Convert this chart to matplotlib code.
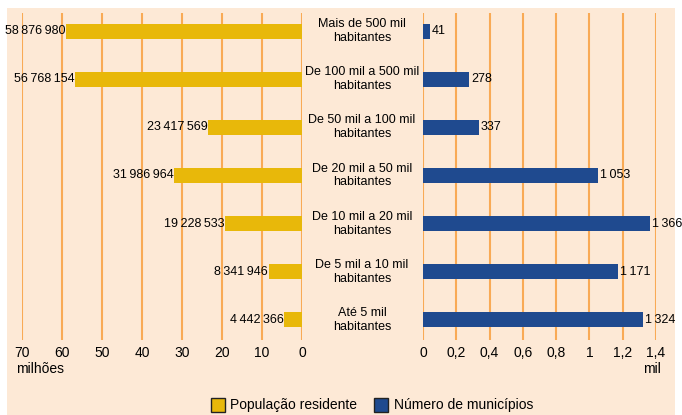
import matplotlib
matplotlib.use('Agg')
import matplotlib.pyplot as plt
import matplotlib.transforms as mtransforms
from matplotlib.patches import Patch, Rectangle

categories = ['Mais de 500 mil\nhabitantes', 'De 100 mil a 500 mil\nhabitantes',
              'De 50 mil a 100 mil\nhabitantes', 'De 20 mil a 50 mil\nhabitantes',
              'De 10 mil a 20 mil\nhabitantes', 'De 5 mil a 10 mil\nhabitantes',
              'Até 5 mil\nhabitantes']
populacao = [58876980, 56768154, 23417569, 31986964, 19228533, 8341946, 4442366]
municipios = [41, 278, 337, 1053, 1366, 1171, 1324]
left_ticks = [70, 60, 50, 40, 30, 20, 10, 0]
right_ticks = [0, 0.2, 0.4, 0.6, 0.8, 1, 1.2, 1.4]

bg = '#fde9d6'
yellow = '#e8b80a'
blue = '#1f4a8f'
grid_c = '#f9aa55'

plt.rcParams['font.family'] = ['Liberation Sans', 'DejaVu Sans']
plt.rcParams['font.size'] = 9

W, H = 682, 415
fig = plt.figure(figsize=(W / 100, H / 100), dpi=100)
fig.patch.set_facecolor('white')
fig.patches.append(Rectangle((7 / W, 0), 1 - 14 / W, 1 - 8 / H, transform=fig.transFigure,
                             facecolor=bg, edgecolor='none', zorder=-10))


def px(x0, y0, x1, y1):
    return [x0 / W, 1 - y1 / H, (x1 - x0) / W, (y1 - y0) / H]


axl = fig.add_axes(px(22, 13, 302, 340))
axr = fig.add_axes(px(423, 13, 656, 340))
rows = list(range(len(categories)))


def fmt(v):
    return '{:,}'.format(v).replace(',', '\u2009')


for ax in (axl, axr):
    ax.set_facecolor('none')
    for s in ax.spines.values():
        s.set_visible(False)
    ax.set_ylim(6.417, -0.375)
    ax.set_yticks([])
    ax.grid(axis='x', color=grid_c, linewidth=1.5)
    ax.set_axisbelow(True)
    ax.tick_params(axis='x', length=0, pad=4, labelsize=10)

pop_m = [p / 1e6 for p in populacao]
axl.barh(rows, pop_m, height=0.31, color=yellow)
axl.set_xlim(70, 0)
axl.set_xticks(left_ticks)
axl.set_xticklabels([str(t) for t in left_ticks])
for r, p, v in zip(rows, pop_m, populacao):
    axl.text(p + 0.2, r, fmt(v), ha='right', va='center', fontsize=9)

mun_k = [m / 1000 for m in municipios]
axr.barh(rows, mun_k, height=0.31, color=blue)
axr.set_xlim(0, 1.4)
axr.set_xticks(right_ticks)
axr.set_xticklabels([('%g' % t).replace('.', ',') for t in right_ticks])
for r, m, v in zip(rows, mun_k, municipios):
    axr.text(m + 0.01, r, fmt(v), ha='left', va='center', fontsize=9)

trans = mtransforms.blended_transform_factory(fig.transFigure, axr.transData)
for r, c in zip(rows, categories):
    fig.text(362 / W, r, c, transform=trans, ha='center', va='center',
             fontsize=9, linespacing=1.2)

fig.text(40 / W, 1 - 369 / H, 'milhões', ha='center', va='center', fontsize=10)
fig.text(652 / W, 1 - 369 / H, 'mil', ha='center', va='center', fontsize=10)

handles = [Patch(facecolor=yellow, edgecolor='#222222', label='População residente'),
           Patch(facecolor=blue, edgecolor='#222222', label='Número de municípios')]
fig.legend(handles=handles, loc='center', bbox_to_anchor=(372 / W, 1 - 405 / H), ncol=2,
           frameon=False, fontsize=10, handlelength=1.0, handleheight=1.2,
           handletextpad=0.4, columnspacing=1.2)

fig.savefig('out.png', dpi=100, facecolor=fig.get_facecolor())
